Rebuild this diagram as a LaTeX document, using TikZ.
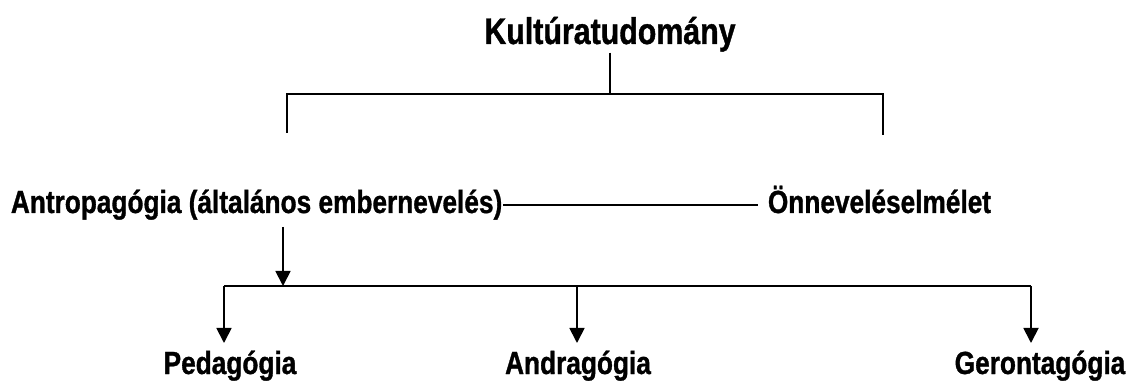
\documentclass[tikz,border=0pt]{standalone}
\usepackage{fontspec}
\newfontfamily\diagfont{Liberation Sans}[FakeStretch=0.82,BoldFeatures={FakeBold=1}]
\usetikzlibrary{arrows.meta}
\begin{document}
\begin{tikzpicture}[x=1pt,y=-1pt,>={Triangle[width=15pt,length=15pt]},line width=1.8pt,
  label/.style={font=\diagfont\bfseries\fontsize{32}{36}\selectfont,inner sep=0pt,anchor=base},
  title/.style={label,font=\diagfont\bfseries\fontsize{37}{42}\selectfont}]
\useasboundingbox (0,0) rectangle (1128,382);
% texts
\node[title] (kult) at (610,44) {Kultúratudomány};
\node[label,anchor=base west] (antro) at (10,213) {Antropagógia (általános embernevelés)};
\node[label,anchor=base west] (onnev) at (767,213) {Önneveléselmélet};
\node[label] (peda) at (230,374) {Pedagógia};
\node[label] (andra) at (578,374) {Andragógia};
\node[label] (geron) at (1040,374) {Gerontagógia};
% upper bracket
\coordinate (barL) at (287,94);
\coordinate (barR) at (883,94);
\draw (kult.south) -- (kult.south |- barL);
\draw (barL) ++(0,39) -- (barL) -- (barR) -- ++(0,41);
\draw (antro.east) -- ([xshift=-9pt]antro.east -| onnev.west);
% lower bracket
\coordinate (antrodown) at (283,227);
\coordinate (split) at (283,286);
\coordinate (dropP) at (224,286);
\coordinate (dropA) at (577,286);
\coordinate (dropG) at (1031,286);
\draw[->] (antrodown) -- (split);
\draw (dropP) -- (dropG);
\foreach \d in {dropP,dropA,dropG}
  \draw[->] (\d) -- ++(0,57);
\end{tikzpicture}
\end{document}
